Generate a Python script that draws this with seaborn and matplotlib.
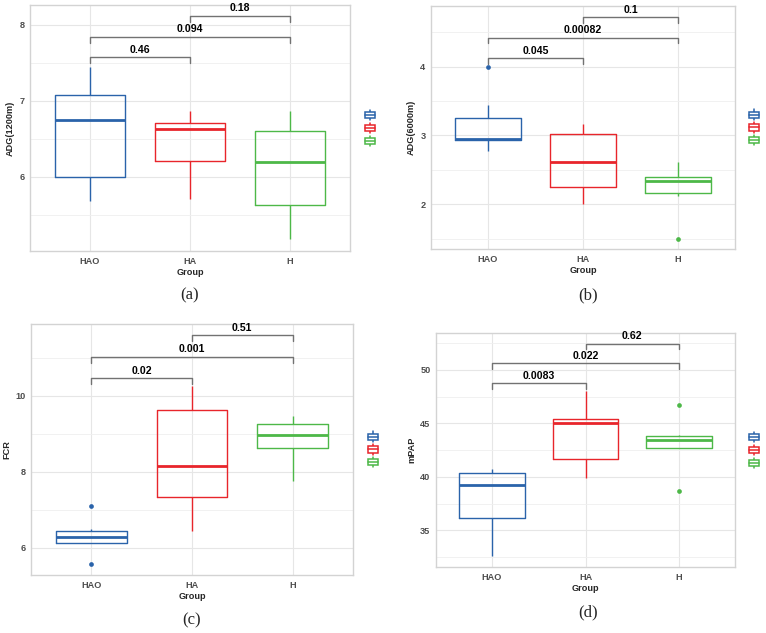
import numpy as np
import pandas as pd
import matplotlib
matplotlib.use("Agg")
import matplotlib.pyplot as plt
import seaborn as sns
from matplotlib.patches import Patch, Rectangle
from matplotlib.lines import Line2D
from matplotlib.legend_handler import HandlerBase

# ---------------- data ----------------
groups = ["HAO", "HA", "H"]
colors = ["#2A63AA", "#E8252B", "#4DB848"]

# (a) ADG(1200m)
adg1200_HAO = [5.675, 5.85, 6.00, 6.40, 6.75, 6.95, 7.08, 7.30, 7.45]
adg1200_HA = [5.71, 6.05, 6.21, 6.45, 6.63, 6.68, 6.71, 6.80, 6.87]
adg1200_H = [5.18, 5.40, 5.62, 5.95, 6.19, 6.40, 6.60, 6.75, 6.87]
# (b) ADG(6000m)
adg6000_HAO = [2.78, 2.85, 2.93, 2.94, 2.95, 3.10, 3.25, 3.44, 4.00]
adg6000_HA = [2.01, 2.12, 2.25, 2.45, 2.61, 2.85, 3.025, 3.10, 3.165]
adg6000_H = [1.50, 2.12, 2.17, 2.25, 2.335, 2.36, 2.39, 2.50, 2.61]
# (c) FCR
fcr_HAO = [5.58, 6.12, 6.14, 6.20, 6.28, 6.38, 6.46, 6.51, 7.105]
fcr_HA = [6.45, 6.90, 7.33, 7.80, 8.16, 8.90, 9.63, 10.00, 10.25]
fcr_H = [7.75, 8.30, 8.64, 8.80, 8.96, 9.10, 9.25, 9.35, 9.47]
# (d) mPAP
mpap_HAO = [32.58, 34.5, 36.13, 38.0, 39.28, 40.0, 40.34, 40.6, 40.75]
mpap_HA = [39.9, 40.8, 41.71, 43.5, 45.0, 45.2, 45.45, 46.5, 48.0]
mpap_H = [38.72, 42.70, 42.74, 43.1, 43.43, 43.6, 43.86, 43.90, 46.70]

comparisons = [("HAO", "HA"), ("HAO", "H"), ("HA", "H")]
p_adg1200 = ["0.46", "0.094", "0.18"]
p_adg6000 = ["0.045", "0.00082", "0.1"]
p_fcr = ["0.02", "0.001", "0.51"]
p_mpap = ["0.0083", "0.022", "0.62"]
ybr_adg1200 = [7.57, 7.84, 8.12]
ybr_adg6000 = [4.12, 4.42, 4.72]
ybr_fcr = [10.46, 11.03, 11.59]
ybr_mpap = [48.79, 50.62, 52.46]

panels = [
    dict(ylabel="ADG(1200m)", vals=[adg1200_HAO, adg1200_HA, adg1200_H], p=p_adg1200, yb=ybr_adg1200,
         ylim=(5.02, 8.26), major=[6, 7, 8], minor=[5.5, 6.5, 7.5], tag="(a)",
         rect=(30, 5, 350, 251), tagpos=(190, 295)),
    dict(ylabel="ADG(6000m)", vals=[adg6000_HAO, adg6000_HA, adg6000_H], p=p_adg6000, yb=ybr_adg6000,
         ylim=(1.35, 4.88), major=[2, 3, 4], minor=[1.5, 2.5, 3.5, 4.5], tag="(b)",
         rect=(431, 6, 735, 249), tagpos=(588, 295)),
    dict(ylabel="FCR", vals=[fcr_HAO, fcr_HA, fcr_H], p=p_fcr, yb=ybr_fcr,
         ylim=(5.29, 11.89), major=[6, 8, 10], minor=[7, 9, 11], tag="(c)",
         rect=(31, 324, 353, 575), tagpos=(192, 620)),
    dict(ylabel="mPAP", vals=[mpap_HAO, mpap_HA, mpap_H], p=p_mpap, yb=ybr_mpap,
         ylim=(31.57, 53.46), major=[35, 40, 45, 50], minor=[32.5, 37.5, 42.5, 47.5, 52.5], tag="(d)",
         rect=(436, 333, 735, 567), tagpos=(588, 612)),
]


class BoxHandler(HandlerBase):
    def create_artists(self, legend, orig_handle, xdescent, ydescent, width, height, fontsize, trans):
        c = orig_handle.get_edgecolor()
        cx = -xdescent + width / 2
        bw = width * 0.95
        bh = height * 0.6
        by = -ydescent + (height - bh) / 2
        box = Rectangle((cx - bw / 2, by), bw, bh, facecolor="white", edgecolor=c, lw=1.1, transform=trans)
        med = Line2D([cx - bw / 2, cx + bw / 2], [by + bh / 2, by + bh / 2], color=c, lw=1.1, transform=trans)
        w1 = Line2D([cx, cx], [-ydescent, by], color=c, lw=1.1, transform=trans)
        w2 = Line2D([cx, cx], [by + bh, -ydescent + height], color=c, lw=1.1, transform=trans)
        return [w1, w2, box, med]


W, H = 766, 633
fig = plt.figure(figsize=(W / 100, H / 100), dpi=100)
sns.set_style("white")
plt.rcParams["font.family"] = ["Liberation Sans", "DejaVu Sans"]

for pn in panels:
    l, t, r, b = pn["rect"]
    ax = fig.add_axes([l / W, 1 - b / H, (r - l) / W, (b - t) / H])
    rows = []
    for g, v in zip(groups, pn["vals"]):
        for x in v:
            rows.append((g, x))
    df = pd.DataFrame(rows, columns=["Group", "value"])
    sns.boxplot(data=df, x="Group", y="value", hue="Group", order=groups, hue_order=groups,
                palette=colors, fill=False, width=0.7, showcaps=False, linewidth=1.0,
                whis=1.5, legend=False, ax=ax,
                flierprops=dict(marker="o", markersize=3.4),
                medianprops=dict(linewidth=2.0))
    for ln in ax.lines:
        if ln.get_marker() == "o":
            ln.set_markerfacecolor(ln.get_markeredgecolor())
            ln.set_markeredgewidth(0)
    ax.set_ylim(*pn["ylim"])
    ax.set_xlim(-0.6, 2.6)
    ax.set_yticks(pn["major"], labels=[str(v) for v in pn["major"]])
    ax.set_yticks(pn["minor"], minor=True)
    ax.set_xticks(range(len(groups)), labels=groups)
    ax.grid(True, which="major", color="#E6E6E6", lw=0.8)
    ax.grid(True, which="minor", axis="y", color="#EFEFEF", lw=0.6)
    ax.set_axisbelow(True)
    for s in ax.spines.values():
        s.set_color("#D3D3D3")
        s.set_linewidth(1.0)
    ax.tick_params(length=0, pad=4, labelsize=6.6, labelcolor="#4D4D4D")
    ax.tick_params(which="minor", length=0)
    for lab in ax.get_xticklabels() + ax.get_yticklabels():
        lab.set_fontweight("bold")
        lab.set_fontfamily(["Liberation Sans", "DejaVu Sans"])
    ax.set_xlabel("Group", fontsize=6.6, fontweight="bold", labelpad=2)
    ax.set_ylabel(pn["ylabel"], fontsize=6.6, fontweight="bold", labelpad=3)
    yr = pn["ylim"][1] - pn["ylim"][0]
    tip = 0.024 * yr
    for (g1, g2), lab, yb in zip(comparisons, pn["p"], pn["yb"]):
        x1, x2 = groups.index(g1), groups.index(g2)
        ax.plot([x1, x1, x2, x2], [yb - tip, yb, yb, yb - tip], color="#727272", lw=1.0, clip_on=False)
        ax.text((x1 + x2) / 2, yb + 0.010 * yr, lab, ha="center", va="bottom", fontsize=7.6,
                fontweight="bold", color="black")
    handles = [Patch(edgecolor=c, facecolor="white") for c in colors]
    ax.legend(handles, ["", "", ""], handler_map={Patch: BoxHandler()}, loc="center left",
              bbox_to_anchor=(1.045, 0.5), frameon=False, fontsize=7, handlelength=1.1,
              handleheight=1.25, labelspacing=0.25, handletextpad=0, borderaxespad=0,
              borderpad=0)
    fig.text(pn["tagpos"][0] / W, 1 - pn["tagpos"][1] / H, pn["tag"], ha="center", va="center",
             fontsize=12, family=["Liberation Serif", "DejaVu Serif"])

fig.savefig("out.png", dpi=100, facecolor="white")
